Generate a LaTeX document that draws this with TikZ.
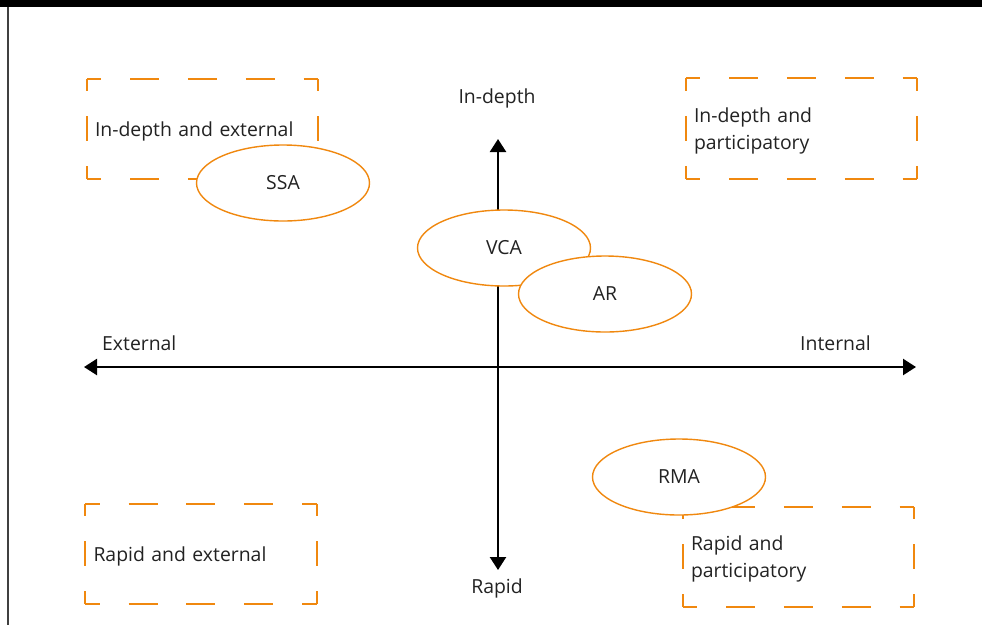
\documentclass[tikz,border=0pt]{standalone}
\usepackage{fontspec}
\setmainfont{Open Sans}
\usepackage{tikz}
\usetikzlibrary{positioning, arrows.meta, shapes.geometric}

\definecolor{orangeline}{HTML}{F0880F}
\definecolor{textgray}{HTML}{222222}

\tikzset{
    lbl/.style={font=\fontsize{19.4}{27}\selectfont, text=textgray, inner sep=0pt},
    oval/.style={ellipse, draw=orangeline, line width=1.4pt, fill=white,
        minimum width=173pt, minimum height=76pt, lbl},
    qbox/.style={lbl, minimum height=100pt, text width=215pt, inner xsep=8pt,
        inner ysep=0pt, align=left},
    hdash/.style={draw=orangeline, line width=1.8pt, dash pattern=on 28.9pt off 28.9pt, dash phase=14.45pt},
    vdash/.style={draw=orangeline, line width=1.8pt, dash pattern=on 25pt off 25pt, dash phase=12.5pt},
    axis/.style={line width=2.4pt, {Triangle[length=13pt, width=16pt]}-{Triangle[length=13pt, width=16pt]}},
}

\begin{document}
\begin{tikzpicture}[x=1pt, y=-1pt]
    \useasboundingbox (0,0) rectangle (982,625);

    % Frame
    \fill[black] (0,0) rectangle (982,7);
    \draw[line width=2pt, black!75] (8,7) -- (8,625);

    % Define quadrant boxes
    \node[qbox] (ie) at (202.5,129) {};
    \node[qbox] (ip) at (801.5,128.5) {};
    \node[qbox] (re) at (201,554) {};
    \node[qbox] (rp) at (798.5,557) {};

    % Dashed edges
    \foreach \b in {ie, ip, re, rp} {
        \draw[hdash] (\b.north west) -- (\b.north east);
        \draw[hdash] (\b.south west) -- (\b.south east);
        \draw[vdash] (\b.north west) -- (\b.south west);
        \draw[vdash] (\b.north east) -- (\b.south east);
    }

    % Box texts
    \node[qbox, yshift=-2pt] (ietext) at (ie) {In-depth and external};
    \node[qbox, yshift=-2pt] (iptext) at (ip) {In-depth and\\participatory};
    \node[qbox, yshift=-2pt] (retext) at (re) {Rapid and external};
    \node[qbox, yshift=-2pt] (rptext) at (rp) {Rapid and\\participatory};

    % Axes
    \coordinate (left) at (84,367);
    \coordinate (right) at (916,367);
    \coordinate (top) at (498,139);
    \coordinate (bottom) at (498,570);
    \draw[axis] (left) -- (right);
    \draw[axis] (bottom) -- (top);

    % Axis labels
    \node[lbl] (indepth) at (497,98) {In-depth};
    \node[lbl] (rapid) at (497,588) {Rapid};
    \node[lbl, anchor=west] (external) at (102,343) {External};
    \node[lbl, anchor=east] (internal) at (871,343) {Internal};

    % Methods
    \node[oval] (ssa) at (283,183) {SSA};
    \node[oval] (vca) at (504,248) {VCA};
    \node[oval] (ar) at (605,294) {AR};
    \node[oval] (rma) at (679,477) {RMA};

\end{tikzpicture}
\end{document}
